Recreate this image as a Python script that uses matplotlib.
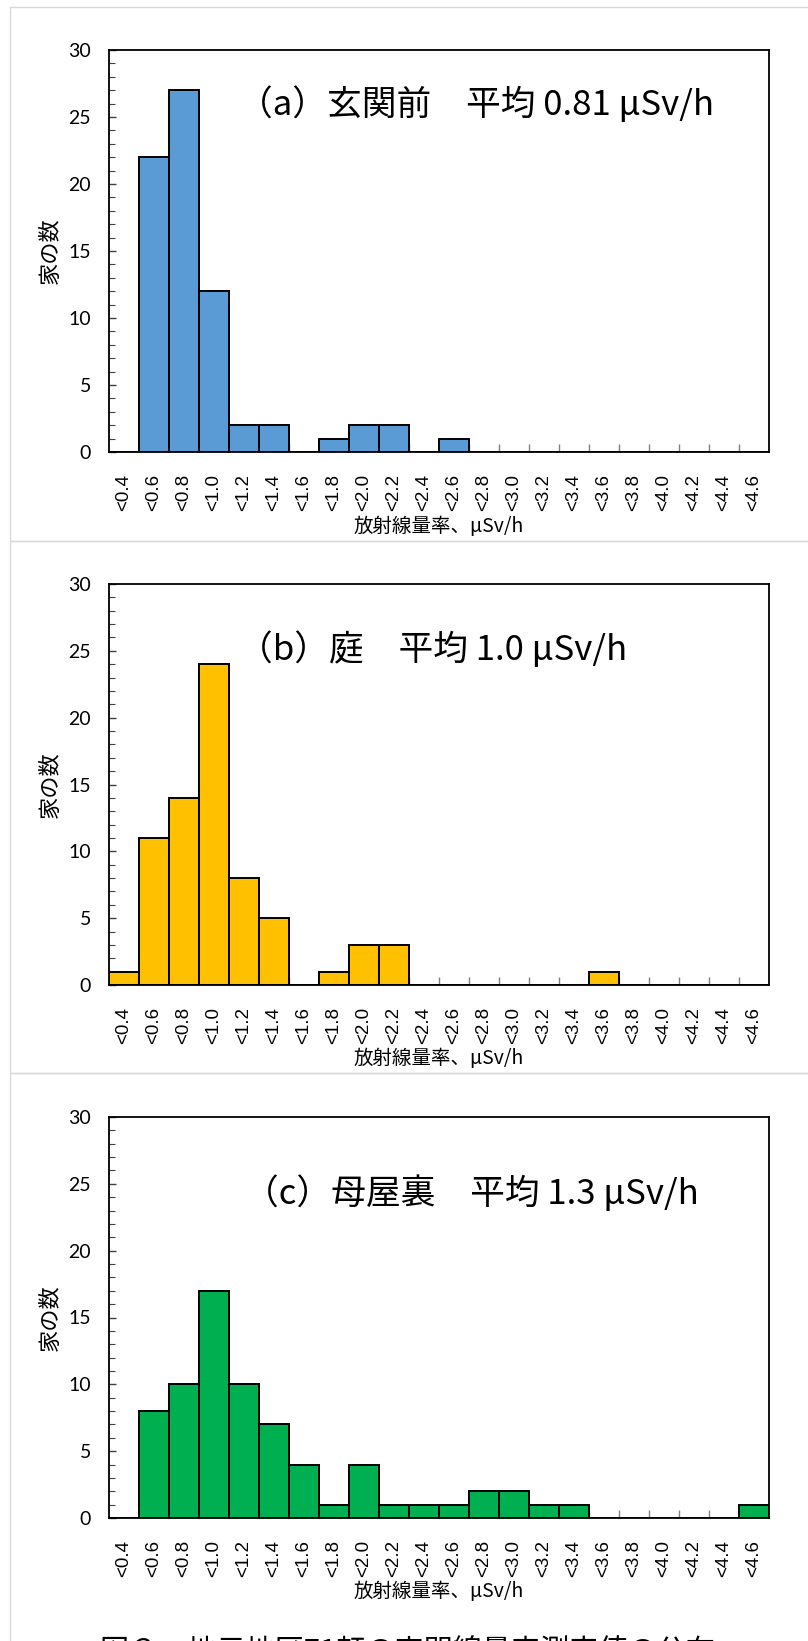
import matplotlib
matplotlib.use("Agg")
import matplotlib.pyplot as plt
import matplotlib.transforms as mtransforms
from matplotlib.patches import Rectangle
from matplotlib.ticker import MultipleLocator, FixedLocator

plt.rcParams['font.family'] = ['Noto Sans CJK JP', 'DejaVu Sans']

categories = ["<0.4", "<0.6", "<0.8", "<1.0", "<1.2", "<1.4", "<1.6", "<1.8", "<2.0", "<2.2",
              "<2.4", "<2.6", "<2.8", "<3.0", "<3.2", "<3.4", "<3.6", "<3.8", "<4.0", "<4.2",
              "<4.4", "<4.6"]
counts_a = [0, 22, 27, 12, 2, 2, 0, 1, 2, 2, 0, 1, 0, 0, 0, 0, 0, 0, 0, 0, 0, 0]
counts_b = [1, 11, 14, 24, 8, 5, 0, 1, 3, 3, 0, 0, 0, 0, 0, 0, 1, 0, 0, 0, 0, 0]
counts_c = [0, 8, 10, 17, 10, 7, 4, 1, 4, 1, 1, 1, 2, 2, 1, 1, 0, 0, 0, 0, 0, 1]
titles = ["（a）玄関前　平均 0.81 μSv/h", "（b）庭　平均 1.0 μSv/h", "（c）母屋裏　平均 1.3 μSv/h"]
colors = ["#5B9BD5", "#FFC000", "#00B050"]
ylabel = "家の数"
xlabel = "放射線量率、μSv/h"
caption = "図３　地元地区71軒の空間線量率測定値の分布"

W, H = 808, 1641
fig = plt.figure(figsize=(W / 100, H / 100), dpi=100)
fig.patch.set_facecolor("white")

# panel frames (light gray)
frames = [(10, 7, 541), (10, 541, 1073), (10, 1073, 1700)]
for x0, y0, y1 in frames:
    fig.patches.append(Rectangle((x0 / W, 1 - y1 / H), (900 - x0) / W, (y1 - y0) / H,
                                 transform=fig.transFigure, fill=False,
                                 edgecolor="#d9d9d9", linewidth=1.0, zorder=0))

ax_tops = [50, 584, 1117]
ax_bot = [452, 985, 1518]
title_pos = [(0.196, 25.9), (0.196, 25.1), (0.204, 24.3)]
all_counts = [counts_a, counts_b, counts_c]

xs = list(range(len(categories)))
for i in range(3):
    ax = fig.add_axes([109 / W, 1 - ax_bot[i] / H, 660 / W, (ax_bot[i] - ax_tops[i]) / H])
    ax.bar(xs, all_counts[i], width=1.0, color=colors[i], edgecolor="black",
           linewidth=1.4, zorder=2)
    ax.set_xlim(-0.5, len(categories) - 0.5)
    ax.set_ylim(0, 30)
    ax.set_axisbelow(True)
    for s in ax.spines.values():
        s.set_linewidth(1.3)
        s.set_color("black")
    ax.yaxis.set_major_locator(MultipleLocator(5))
    ax.yaxis.set_minor_locator(MultipleLocator(1))
    ax.tick_params(axis='y', which='both', direction='in', color='#404040')
    ax.tick_params(axis='y', which='major', length=5, width=1.0, pad=13, labelsize=14)
    ax.tick_params(axis='y', which='minor', length=4, width=0.8)
    for lab in ax.get_yticklabels():
        lab.set_family(['Lato', 'DejaVu Sans'])
    ax.set_xticks(xs)
    ax.set_xticklabels(categories, rotation=90, family=['Liberation Sans', 'DejaVu Sans'],
                       fontsize=13.5)
    ax.tick_params(axis='x', which='major', length=0, pad=16)
    ax.xaxis.set_minor_locator(FixedLocator([k + 0.5 for k in xs[:-1]]))
    ax.tick_params(axis='x', which='minor', direction='in', length=6, width=1.0, color='#808080')
    ax.set_ylabel(ylabel, fontsize=16)
    ax.yaxis.set_label_coords(-0.072, 0.5)
    ax.set_xlabel(xlabel, fontsize=14)
    ax.xaxis.set_label_coords(0.5, -0.158)
    tx, ty = title_pos[i]
    ax.text(tx, ty, titles[i],
            transform=mtransforms.blended_transform_factory(ax.transAxes, ax.transData),
            fontsize=25, va='center', ha='left')

fig.text(100 / W, 1 - 1660 / H, caption, fontsize=21, ha='left', va='baseline')

fig.savefig("out.png", dpi=100, facecolor="white")
